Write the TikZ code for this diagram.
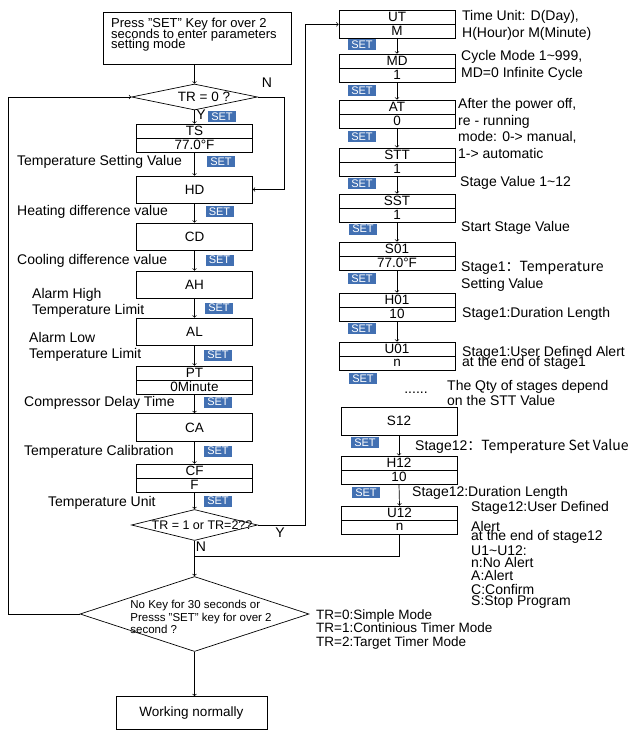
\documentclass[tikz,border=0pt]{standalone}
\usepackage{fontspec}
\setmainfont{Liberation Sans}
\newfontfamily\cjk{Noto Sans CJK SC}
\usepackage{tikz}
\usetikzlibrary{calc}
\usetikzlibrary{arrows}
\usetikzlibrary{shapes.geometric}
\definecolor{bleuset}{RGB}{66,112,178}
\def \serre {\lineskiplimit=-20pt\relax} %lignes de texte serrees
\tikzstyle{trait}           =[line width=0.7pt]
\tikzstyle{fleche}          =[line width=0.7pt,->,>=to]
\tikzstyle{case}            =[draw,line width=0.7pt,minimum width=116pt,minimum height=27pt,inner sep=0pt,font=\fontsize{13.5}{13.5}\selectfont]
\tikzstyle{demi}            =[case,minimum height=14pt]
\tikzstyle{losange}         =[draw,line width=0.7pt,diamond,inner sep=0pt]
\tikzstyle{touche}          =[fill=bleuset,text=white,minimum width=28pt,minimum height=11pt,inner sep=0pt,font=\fontsize{11}{11}\selectfont]
\tikzstyle{legende}         =[anchor=west,inner sep=0pt,align=left,font=\fontsize{14}{16.5}\selectfont]

\begin{document}
\begin{tikzpicture}[x=1pt,y=-1pt]
\useasboundingbox (0,0) rectangle (633,730);

%%%%%%%%%%%%%%%%%%%%%%%%
%Colonne de gauche
%%%%%%%%%%%%%%%%%%%%%%%%

\def \xg {194.5} %abscisse de la colonne de gauche
\def \xd {397} %abscisse de la colonne de droite

\node[case,minimum width=188pt,minimum height=52pt] (depart) at (197,38) {};
\node[anchor=north west,inner sep=0pt,align=left,font=\fontsize{13}{10.5}\selectfont\serre] (depart-t) at (111,18) {Press "SET" Key for over 2\\seconds to enter parameters\\setting mode};

%premier test
\node[losange,minimum width=126pt,minimum height=26pt] (tr0) at (\xg,97) {};
\node[font=\fontsize{13.5}{13.5}\selectfont] (tr0-t) at (204,97) {TR = 0 ?};
\node[font=\fontsize{14}{14}\selectfont] (N0) at (267,83) {N};
\node[font=\fontsize{14}{14}\selectfont] (Y0) at (201,115) {Y};

%cases simples et cases doubles
\node[demi] (TS) at (\xg,131) {TS};
\node[demi] (TS-v) at (\xg,145) {77.0°F};
\node[case] (HD) at (\xg,189.5) {HD};
\node[case] (CD) at (\xg,236.5) {CD};
\node[case] (AH) at (\xg,284.5) {AH};
\node[case] (AL) at (\xg,331.5) {AL};
\node[demi] (PT) at (\xg,373) {PT};
\node[demi] (PT-v) at (\xg,387) {0Minute};
\node[case,minimum height=28pt] (CA) at (\xg,427.5) {CA};
\node[demi] (CF) at (\xg,471) {CF};
\node[demi] (CF-v) at (\xg,485) {F};

%second test
\node[losange,minimum width=126pt,minimum height=31pt] (tr12) at (\xg,525) {};
\node[font=\fontsize{12.5}{12.5}\selectfont] (tr12-t) at (202,525) {TR = 1 or TR=2??};
\node[font=\fontsize{14}{14}\selectfont] (Y12) at (280,533) {Y};
\node[font=\fontsize{14}{14}\selectfont] (N12) at (201,547) {N};

%sortie
\node[losange,minimum width=229pt,minimum height=75pt] (sortie) at (\xg,614) {};
\node[align=left,font=\fontsize{11.5}{12.5}\selectfont] (sortie-t) at (201,617) {No Key for 30 seconds or\\Presss "SET" key for over 2\\second ?};
\node[legende,font=\fontsize{13.5}{13.5}\selectfont] (modes) at (316,629.5) {TR=0:Simple Mode\\TR=1:Continious Timer Mode\\TR=2:Target Timer Mode};
\node[case,minimum width=151pt,minimum height=33pt] (travail) at (191.5,713) {Working normally};

%legendes de gauche
\node[legende] (lTS) at (17,162) {Temperature Setting Value};
\node[legende] (lHD) at (17,212) {Heating difference value};
\node[legende] (lCD) at (17,261) {Cooling difference value};
\node[legende] (lAH) at (32,303) {Alarm High\\Temperature Limit};
\node[legende] (lAL) at (29,347) {Alarm Low\\Temperature Limit};
\node[legende] (lPT) at (24,403) {Compressor Delay Time};
\node[legende] (lCA) at (24,452) {Temperature Calibration};
\node[legende] (lCF) at (48,503) {Temperature Unit};

%%%%%%%%%%%%%%%%%%%%%%%%
%Colonne de droite
%%%%%%%%%%%%%%%%%%%%%%%%

\foreach \nom/\haut/\valeur in {UT/10/M, MD/54/1, AT/100/0, STT/148/1, SST/194/1, S01/242/77.0°F, H01/293/10, U01/342/n}{
    \node[demi] (\nom) at (\xd,\haut+7) {\nom};
    \node[demi] (\nom-v) at (\xd,\haut+21) {\valeur};
}
\node[case,minimum height=28pt] (S12) at (399,421) {S12};
\node[demi] (H12) at (399,463) {H12};
\node[demi] (H12-v) at (399,477) {10};
\node[demi] (U12) at (399.5,513) {U12};
\node[demi] (U12-v) at (399.5,527) {n};
\node[font=\fontsize{14}{14}\selectfont] (suite) at (416,393) {......};

%legendes de droite
\node[legende] (lUT) at (462,25.5) {Time Unit: D(Day),\\H(Hour)or M(Minute)};
\node[legende] (lMD) at (461,65.5) {Cycle Mode 1\textasciitilde999,\\MD=0 Infinite Cycle};
\node[legende] (lAT) at (458,128.5) {After the power off,\\re - running\\mode: 0-> manual,\\1-> automatic};
\node[legende] (lSTT) at (460,183) {Stage Value 1\textasciitilde12};
\node[legende] (lSST) at (461,228) {Start Stage Value};
\node[legende] (lS01) at (461,276.5) {Stage1\cjk{：}Temperature\\Setting Value};
\node[legende] (lH01) at (462,314) {Stage1:Duration Length};
\node[legende,font=\fontsize{14}{10.5}\selectfont\serre] (lU01) at (462,358) {Stage1:User Defined Alert\\at the end of stage1};
\node[legende,font=\fontsize{14}{15}\selectfont] (lSTT2) at (447,392.5) {The Qty of stages depend\\on the STT Value};
\node[legende] (lS12) at (415,447) {Stage12\cjk{：}Temperature Set Value};
\node[legende] (lH12) at (412,493) {Stage12:Duration Length};
\foreach \ligne/\y [count=\i] in {Stage12:User Defined/508, Alert/526, at the end of stage12/537, U1\textasciitilde U12:/551, n:No Alert/562, A:Alert/575, C:Confirm/589, S:Stop Program/602}{
    \node[legende] (lU12-\i) at (471,\y) {\ligne};
}

%touches SET
\foreach \x/\y [count=\i] in {222/116.5, 221/162, 219.5/211.5, 219.5/260, 219/308, 218/355, 218/402, 218/451, 218/501, 362/44.5, 362/90.5, 362/137, 362/183.5, 363/229, 362/278.5, 362/328.5, 363/378.5, 365/442.5, 366/492.5}{
    \node[touche] (set\i) at (\x,\y) {SET};
}

%%%%%%%%%%%%%%%%%%%%%%%%
%Fleches
%%%%%%%%%%%%%%%%%%%%%%%%

\coordinate (bordN) at (284,97);
\coordinate (bordY) at (305,525);
\coordinate (bordG) at (8,614);
\coordinate (jonction) at (\xg,556);

\draw[fleche] (tr0.north |- depart.south) -- (tr0.north);
\draw[fleche] (tr0.south) -- (TS.north);
\draw[fleche] (TS-v.south) -- (HD.north);
\draw[fleche] (HD.south) -- (CD.north);
\draw[fleche] (CD.south) -- (AH.north);
\draw[fleche] (AH.south) -- (AL.north);
\draw[fleche] (AL.south) -- (PT.north);
\draw[fleche] (PT-v.south) -- (CA.north);
\draw[fleche] (CA.south) -- (CF.north);
\draw[fleche] (CF-v.south) -- (tr12.north);
\draw[fleche] (tr0.east) -- (bordN) |- (HD.east);
\draw[fleche] (tr12.east) -- (bordY) |- (UT.south west);
\draw[fleche] (tr12.south) -- (sortie.north);
\draw[trait] (U12-v.south) |- (jonction);
\draw[fleche] (sortie.west) -- (bordG) |- (tr0.west);
\draw[fleche] (sortie.south) -- (sortie.south |- travail.north);
\foreach \a/\b in {UT/MD, MD/AT, AT/STT, STT/SST, SST/S01, S01/H01, H01/U01}{
    \draw[fleche] (\a-v.south) -- (\b.north);
}
\draw[fleche] (S12.south) -- (H12.north);
\draw[fleche] (H12-v.south) -- (U12.north);

\end{tikzpicture}
\end{document}
